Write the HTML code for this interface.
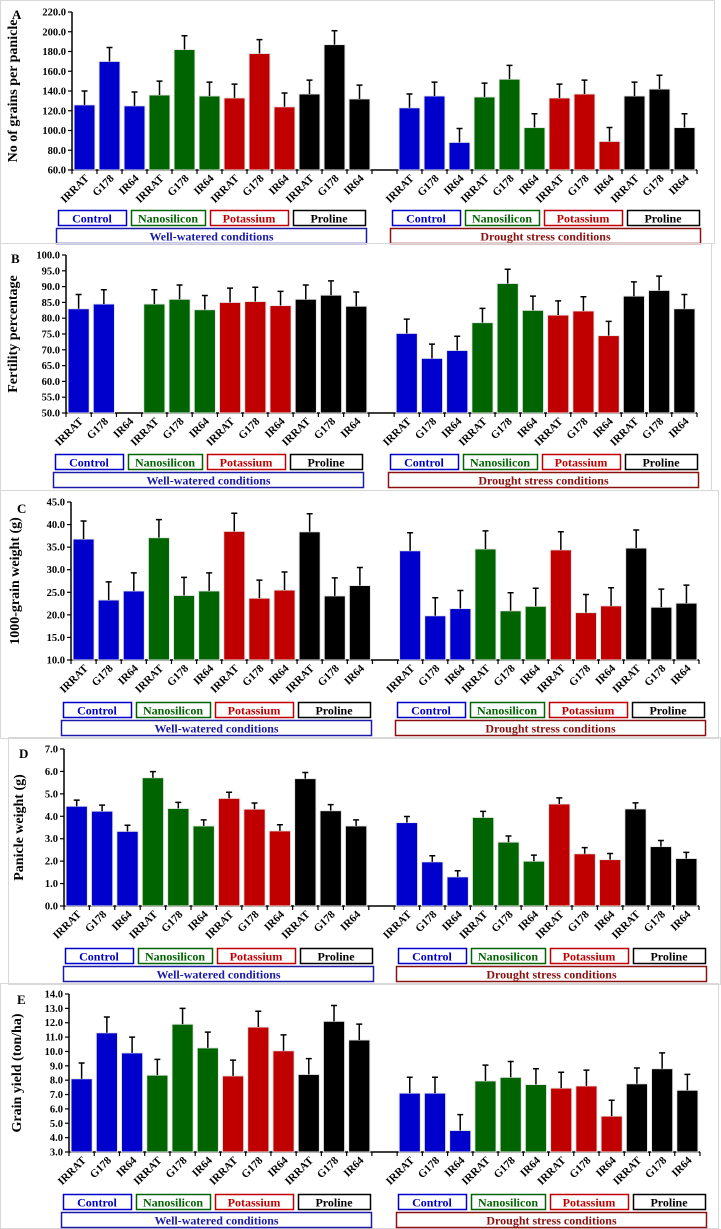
<!DOCTYPE html>
<html><head><meta charset="utf-8"><style>
body{margin:0;background:#fff}
svg{display:block;font-family:"Liberation Serif",serif;font-weight:bold}
</style></head><body>
<svg id="fig" width="721" height="1229" viewBox="0 0 721 1229" xmlns="http://www.w3.org/2000/svg"></svg>
<script>
const genotypes = ["IRRAT","G178","IR64"];
const treatments = ["Control","Nanosilicon","Potassium","Proline"];
const treatColors = ["#0000cc","#006400","#c00000","#000000"];
const conditions = ["Well-watered conditions","Drought stress conditions"];

const valsA = [126,170,125,136,182,135,133,178,124,137,187,132, 123,135,88,134,152,103,133,137,89,135,142,103];
const errA  = [14,14,14,14,14,14,14,14,14,14,14,14, 14,14,14,14,14,14,14,14,14,14,14,14];
const valsB = [83,84.5,null,84.5,86,82.7,85,85.3,84,86,87.3,83.8, 75.2,67.3,69.8,78.6,91,82.5,81,82.3,74.5,87,88.8,83];
const errB  = [4.5,4.5,0,4.5,4.5,4.5,4.5,4.5,4.5,4.5,4.5,4.5, 4.5,4.5,4.5,4.5,4.5,4.5,4.5,4.5,4.5,4.5,4.5,4.5];
const valsC = [36.8,23.3,25.3,37.1,24.3,25.3,38.5,23.7,25.5,38.4,24.2,26.5, 34.2,19.8,21.4,34.6,20.9,21.9,34.4,20.5,22.0,34.8,21.7,22.6];
const errC  = [4,4,4,4,4,4,4,4,4,4,4,4, 4,4,4,4,4,4,4,4,4,4,4,4];
const valsD = [4.45,4.23,3.33,5.72,4.35,3.57,4.80,4.32,3.35,5.68,4.25,3.57, 3.72,1.97,1.30,3.95,2.85,2.0,4.55,2.33,2.07,4.33,2.65,2.12];
const errD  = [0.27,0.27,0.27,0.27,0.27,0.27,0.27,0.27,0.27,0.27,0.27,0.27, 0.27,0.27,0.27,0.27,0.27,0.27,0.27,0.27,0.27,0.27,0.27,0.27];
const valsE = [8.1,11.3,9.9,8.35,11.9,10.25,8.3,11.7,10.05,8.4,12.1,10.8, 7.1,7.1,4.5,7.95,8.2,7.7,7.45,7.6,5.5,7.75,8.8,7.3];
const errE  = [1.1,1.1,1.1,1.1,1.1,1.1,1.1,1.1,1.1,1.1,1.1,1.1, 1.1,1.1,1.1,1.1,1.1,1.1,1.1,1.1,1.1,1.1,1.1,1.1];
const ticksA = [60,80,100,120,140,160,180,200,220];
const ticksB = [50,55,60,65,70,75,80,85,90,95,100];
const ticksC = [10,15,20,25,30,35,40,45];
const ticksD = [0,1,2,3,4,5,6,7];
const ticksE = [3,4,5,6,7,8,9,10,11,12,13,14];
const titles = ["No of grains per panicle","Fertility percentage","1000-grain weight (g)","Panicle weight (g)","Grain yield (ton/ha)"];
const letters = ["A","B","C","D","E"];

const panels = [
 {vals:valsA,err:errA,ticks:ticksA,box:[0,0,714,243],ax:72,xe:697,yt:12,yb:170,lx:58,dx:392,ly:210,tx:13,letter:[12,14]},
 {vals:valsB,err:errB,ticks:ticksB,box:[0,243,711,247],ax:66,xe:697,yt:255,yb:413,lx:55,dx:390,ly:454,tx:13,letter:[11,258]},
 {vals:valsC,err:errC,ticks:ticksC,box:[0,490,718,248],ax:71,xe:699,yt:502,yb:660,lx:63,dx:397,ly:702,tx:15,letter:[17,508]},
 {vals:valsD,err:errD,ticks:ticksD,box:[8,737,712,247],ax:64,xe:699,yt:749,yb:906,lx:65,dx:398,ly:948,tx:19,letter:[19,753]},
 {vals:valsE,err:errE,ticks:ticksE,box:[0,983,718,245],ax:69,xe:700,yt:994,yb:1152,lx:63,dx:398,ly:1194,tx:17,letter:[17,999]}
];
const NS="http://www.w3.org/2000/svg";
const svg=document.getElementById("fig");
function mk(tag,attrs,parent){const e=document.createElementNS(NS,tag);for(const k in attrs)e.setAttribute(k,attrs[k]);(parent||svg).appendChild(e);return e;}
const legW=[68,74,78,72], gap=5;

panels.forEach((p,pi)=>{
  const g=mk("g",{});
  
  
  const fr=mk("rect",{x:p.box[0]+0.5,y:p.box[1]+0.5,width:p.box[2],height:p.box[3],fill:"none",stroke:"#d8d8d8","stroke-width":1},g);
  
  
  const lt=mk("text",{x:p.letter[0],y:p.letter[1]+5,"font-size":13},g); lt.textContent=letters[pi];
  
  
  const lo=p.ticks[0], hi=p.ticks[p.ticks.length-1];
  const y=v=>p.yb-(v-lo)/(hi-lo)*(p.yb-p.yt);
  const slot=(p.xe-p.ax)/25;
  const sx=i=>p.ax+(i<12?i:i+1)*slot;
  const ya=mk("line",{x1:p.ax,y1:p.yt,x2:p.ax,y2:p.yb,stroke:"#000","stroke-width":1.5},g);
  
  
  p.ticks.forEach(t=>{
    mk("line",{x1:p.ax-4,y1:y(t),x2:p.ax,y2:y(t),stroke:"#000","stroke-width":1.2},g);
    const tl=mk("text",{x:p.ax-6,y:y(t)+3.5,"font-size":10.5,"text-anchor":"end"},g);
    tl.textContent=t.toFixed(1);
    
    
  });
  const yt=mk("text",{x:p.tx,y:(p.yt+p.yb)/2,"font-size":14,"text-anchor":"middle",transform:`rotate(-90 ${p.tx} ${(p.yt+p.yb)/2})`,dy:4},g);
  yt.textContent=titles[pi];
  
  
  const xa=mk("line",{x1:p.ax,y1:p.yb,x2:p.xe,y2:p.yb,stroke:"#000","stroke-width":1.5},g);
  
  
  for(let k=0;k<=25;k++) mk("line",{x1:p.ax+k*slot,y1:p.yb,x2:p.ax+k*slot,y2:p.yb+4,stroke:"#000","stroke-width":1.2},g);
  p.vals.forEach((v,i)=>{
    const x0=sx(i), c=treatColors[Math.floor((i%12)/3)];
    const xl=mk("text",{"font-size":11,"text-anchor":"end",transform:`translate(${x0+slot/2+5},${p.yb+9}) rotate(-45)`},g);
    xl.textContent=genotypes[i%3];
    
    
    if(v===null) return;
    const top=y(v);
    const b=mk("rect",{x:x0+2,y:top,width:slot-4,height:p.yb-top,fill:c,stroke:"#e8e8e8","stroke-width":1},g);
    
    
    const et=y(v+p.err[i]), cx=x0+slot/2;
    const eb=mk("path",{d:`M${cx} ${top}V${et}M${cx-3} ${et}H${cx+3}`,stroke:"#000","stroke-width":1.5,fill:"none"},g);
    
    
  });
  [p.lx,p.dx].forEach((L,ci)=>{
    let x=L;
    treatments.forEach((t,ti)=>{
      const r=mk("rect",{x:x+0.5,y:p.ly+0.5,width:legW[ti],height:15,fill:"#fff",stroke:treatColors[ti],"stroke-width":1.5},g);
      
      
      const tx=mk("text",{x:x+legW[ti]/2,y:p.ly+12.5,"font-size":12,"text-anchor":"middle",fill:treatColors[ti]},g);
      tx.textContent=t;
      
      
      x+=legW[ti]+gap;
    });
    const cc=ci===0?"#1a1aa8":"#8b1010";
    const cr=mk("rect",{x:L-1.5,y:p.ly+18.5,width:310,height:15,fill:"#fff",stroke:cc,"stroke-width":1.5},g);
    
    
    const ct=mk("text",{x:L-1.5+155,y:p.ly+30.5,"font-size":12,"text-anchor":"middle",fill:cc},g);
    ct.textContent=conditions[ci];
    
    
  });
});
</script>
</body></html>
